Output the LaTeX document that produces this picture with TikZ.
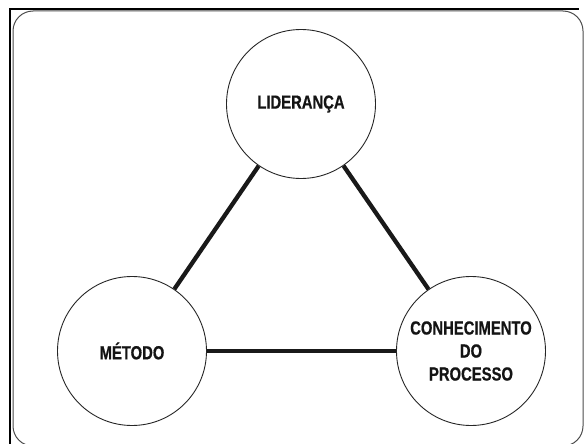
\documentclass[tikz,border=0pt]{standalone}
\usepackage{fontspec}
\setmainfont{Liberation Sans}
\newfontfamily\lblfont[FakeStretch=0.78,FakeBold=0.6]{Liberation Sans}
\begin{document}
\begin{tikzpicture}[x=1pt,y=-1pt,
  idea/.style={circle,draw=black!85,line width=0.9pt,minimum size=149pt,inner sep=0pt,
    font=\lblfont\bfseries\fontsize{19pt}{23pt}\selectfont,text=black!92,align=center},
  link/.style={line width=4.3pt,draw=black!90}]
\useasboundingbox (0,0) rectangle (584,444);
\draw[line width=2pt,black] (10,445) -- (10,9) -- (579,9);
\draw[line width=1pt,black!70,rounded corners=20pt] (13,11) rectangle (583,446);
\node[idea] (lid) at (301,104) {LIDERANÇA};
\node[idea] (met) at (132,351) {MÉTODO};
\node[idea] (con) at (471,351) {CONHECIMENTO\\DO\\PROCESSO};
\draw[link] (lid) -- (met);
\draw[link] (lid) -- (con);
\draw[link] (met) -- (con);
\end{tikzpicture}
\end{document}
